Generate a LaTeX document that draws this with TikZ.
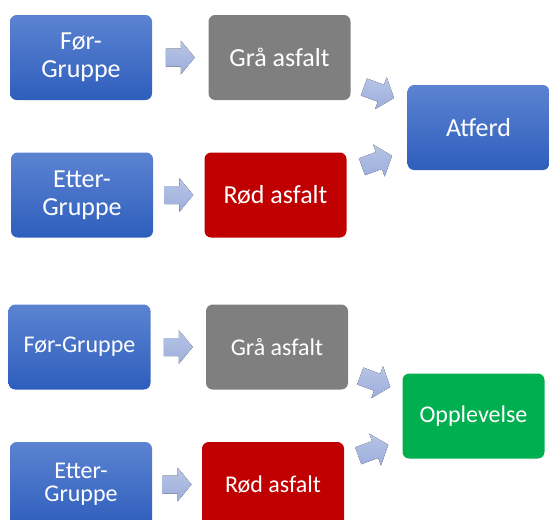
\documentclass[tikz,border=0pt]{standalone}
\usepackage{fontspec}
\setmainfont{Carlito}
\usetikzlibrary{calc}

\definecolor{blueTop}{RGB}{92,131,210}
\definecolor{blueBot}{RGB}{46,94,188}
\definecolor{grayBox}{RGB}{127,127,127}
\definecolor{redBox}{RGB}{192,0,0}
\definecolor{greenBox}{RGB}{0,176,80}
\definecolor{arrowTop}{RGB}{184,196,230}
\definecolor{arrowBot}{RGB}{156,174,219}

\tikzset{
  box/.style={rounded corners=5pt, minimum width=106.5pt, minimum height=63.75pt,
    inner sep=0.75pt, align=center, text=white,
    font=\fontsize{19.5}{21}\selectfont},
  smallbox/.style={font=\fontsize{18}{17.5}\selectfont},
  groupbox/.style={box, top color=blueTop, bottom color=blueBot},
  graybox/.style={box, fill=grayBox},
  redbox/.style={box, fill=redBox},
  greenbox/.style={box, fill=greenBox},
  resultbox/.style={box, top color=blueTop, bottom color=blueBot},
  pics/blockarrow/.style={code={
    \fill[top color=arrowTop, bottom color=arrowBot]
      (-#1,-9) -- (#1-14,-9) -- (#1-14,-17) -- (#1,0) -- (#1-14,17) -- (#1-14,9) -- (-#1,9) -- cycle;
  }}
}

\begin{document}
\begin{tikzpicture}[x=0.75pt,y=0.75pt,yscale=-1,xscale=1]
				\useasboundingbox (0,0) rectangle (549,519); %diagram is 549 wide, 519 high

				%Shape: Rounded Rect, upper group
				\node [groupbox] (forA) at (81,57.5) {Før-\\Gruppe};
				\node [graybox] (graA) at (279.5,57.5) {Grå asfalt};
				\node [groupbox] (etterA) at (82,195) {Etter-\\Gruppe};
				\node [redbox] (rodA) at (275.5,195) {Rød asfalt};
				\node [resultbox] (atferd) at (478.5,127.5) {Atferd};

				%Shape: Right Arrow, upper group
				\pic at ($(forA.east)!0.5!(graA.west)$) {blockarrow=14.5};
				\pic at ($(etterA.east)!0.5!(rodA.west)$) {blockarrow=14.5};
				\pic [rotate=-20] at ($(graA.east)!0.5!(atferd.west)$) {blockarrow=16};
				\pic [rotate=20] at ($(rodA.east)!0.5!(atferd.west)$) {blockarrow=16};

				%Shape: Rounded Rect, lower group
				\node [groupbox, smallbox] (forB) at (79.5,347) {Før-Gruppe};
				\node [graybox, smallbox] (graB) at (277,347) {Grå asfalt};
				\node [groupbox, smallbox] (etterB) at (81,484.5) {Etter-\\Gruppe};
				\node [redbox, smallbox] (rodB) at (273,484.5) {Rød asfalt};
				\node [greenbox, smallbox] (opplevelse) at (473.5,416) {Opplevelse};

				%Shape: Right Arrow, lower group
				\pic at ($(forB.east)!0.5!(graB.west)$) {blockarrow=14.5};
				\pic at ($(etterB.east)!0.5!(rodB.west)$) {blockarrow=14.5};
				\pic [rotate=-20] at ($(graB.east)!0.5!(opplevelse.west)$) {blockarrow=16};
				\pic [rotate=20] at ($(rodB.east)!0.5!(opplevelse.west)$) {blockarrow=16};

		\end{tikzpicture}
\end{document}
